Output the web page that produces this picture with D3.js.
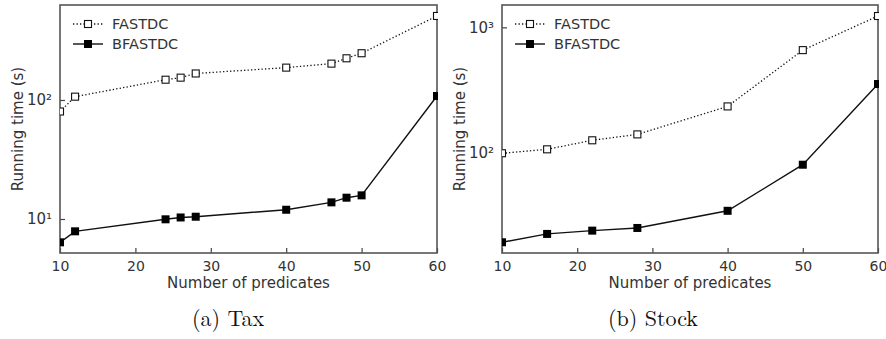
<!DOCTYPE html>
<html>
<head>
<meta charset="utf-8">
<script src="https://cdn.jsdelivr.net/npm/d3@7"></script>
<style>
  body { margin: 0; background: #fff; }
  text { font-family: "DejaVu Sans", sans-serif; fill: #333; }
  .caption { font-family: "Latin Modern Roman", "DejaVu Serif", "Liberation Serif", serif; fill: #111; }
</style>
</head>
<body>
<div id="chart"></div>
<script>
// Values
var taxX = [10, 12, 24, 26, 28, 40, 46, 48, 50, 60];
var taxFast = [80, 106.6, 148, 154, 167, 187, 202, 224, 247, 508];
var taxBFast = [6.37, 7.88, 9.94, 10.3, 10.45, 11.96, 13.8, 15.1, 15.8, 108];

var stockX = [10, 16, 22, 28, 40, 50, 60];
var stockFast = [99, 106.4, 125.6, 140, 234, 658, 1231];
var stockBFast = [19.3, 22.5, 23.9, 25.1, 34.4, 80.2, 353];

var xTicks = [10, 20, 30, 40, 50, 60];
var seriesNames = ['FASTDC', 'BFASTDC'];
var captions = ['(a) Tax', '(b) Stock'];

var W = 886, H = 339;
var svg = d3.select('#chart').append('svg')
  .attr('width', W).attr('height', H);

var sup = {'1': '\u00b9', '2': '\u00b2', '3': '\u00b3'};

function panel(opt) {
  var left = opt.left, right = opt.right, top = 5, bottom = 253;
  var g = svg.append('g');

  var x = d3.scaleLinear().domain([10, 60]).range([left, right]);
  var y = d3.scaleLog().domain(opt.yDomain).range([bottom, top]);

  // x axis, inward ticks
  var xa = g.append('g')
    .attr('transform', 'translate(0,' + bottom + ')')
    .call(d3.axisBottom(x).tickValues(xTicks).tickSizeInner(-5).tickSizeOuter(0).tickPadding(10));
  xa.select('.domain').remove();
  xa.selectAll('line').attr('stroke', '#444').attr('stroke-width', 1.2);
  xa.selectAll('text').attr('font-size', 14).attr('fill', '#333').attr('dy', '0.71em').attr('y', 8);

  // y axis, decades only
  var ya = g.append('g')
    .attr('transform', 'translate(' + left + ',0)')
    .call(d3.axisLeft(y).tickValues(opt.yTicks).tickSizeInner(-5).tickSizeOuter(0).tickPadding(8)
      .tickFormat(function(d) { return '10' + sup[String(Math.round(Math.log10(d)))]; }));
  ya.select('.domain').remove();
  ya.selectAll('line').attr('stroke', '#444').attr('stroke-width', 1.2);
  ya.selectAll('text').attr('font-size', 15).attr('fill', '#333');

  // frame
  g.append('rect')
    .attr('x', left).attr('y', top)
    .attr('width', right - left).attr('height', bottom - top)
    .attr('fill', 'none').attr('stroke', '#555').attr('stroke-width', 1.6);

  var line = d3.line()
    .x(function(d) { return x(d[0]); })
    .y(function(d) { return y(d[1]); });

  var fast = opt.xs.map(function(v, i) { return [v, opt.fast[i]]; });
  var bfast = opt.xs.map(function(v, i) { return [v, opt.bfast[i]]; });

  var clip = 'clip' + left;
  svg.append('clipPath').attr('id', clip)
    .append('rect').attr('x', left).attr('y', top - 6)
    .attr('width', right - left + 1).attr('height', bottom - top + 12);
  var pg = g.append('g').attr('clip-path', 'url(#' + clip + ')');

  pg.append('path').datum(fast).attr('d', line)
    .attr('fill', 'none').attr('stroke', '#111').attr('stroke-width', 1.3)
    .attr('stroke-dasharray', '1.3,2.2');
  pg.append('path').datum(bfast).attr('d', line)
    .attr('fill', 'none').attr('stroke', '#111').attr('stroke-width', 1.4);

  pg.selectAll('.mf').data(fast).enter().append('rect')
    .attr('x', function(d) { return x(d[0]) - 3.5; })
    .attr('y', function(d) { return y(d[1]) - 3.5; })
    .attr('width', 7).attr('height', 7)
    .attr('fill', '#fff').attr('stroke', '#111').attr('stroke-width', 1.1);
  pg.selectAll('.mb').data(bfast).enter().append('rect')
    .attr('x', function(d) { return x(d[0]) - 4; })
    .attr('y', function(d) { return y(d[1]) - 4; })
    .attr('width', 8).attr('height', 8)
    .attr('fill', '#000');

  // legend
  var lx = left + 13, ly = [24, 44];
  var lg = g.append('g');
  lg.append('line').attr('x1', lx).attr('x2', lx + 30).attr('y1', ly[0]).attr('y2', ly[0])
    .attr('stroke', '#111').attr('stroke-width', 1.3).attr('stroke-dasharray', '1.3,2.2');
  lg.append('rect').attr('x', lx + 11.5).attr('y', ly[0] - 3.5).attr('width', 7).attr('height', 7)
    .attr('fill', '#fff').attr('stroke', '#111').attr('stroke-width', 1.1);
  lg.append('line').attr('x1', lx).attr('x2', lx + 30).attr('y1', ly[1]).attr('y2', ly[1])
    .attr('stroke', '#111').attr('stroke-width', 1.4);
  lg.append('rect').attr('x', lx + 11).attr('y', ly[1] - 4).attr('width', 8).attr('height', 8)
    .attr('fill', '#000');
  seriesNames.forEach(function(n, i) {
    lg.append('text').attr('x', lx + 39).attr('y', ly[i]).attr('dy', '0.35em')
      .attr('font-size', 14.5).text(n);
  });

  // axis titles
  g.append('text')
    .attr('transform', 'translate(' + opt.ylabX + ',' + ((top + bottom) / 2) + ') rotate(-90)')
    .attr('text-anchor', 'middle').attr('dy', '0.35em')
    .attr('font-size', 15).text('Running time (s)');
  g.append('text')
    .attr('x', (left + right) / 2).attr('y', 283).attr('dy', '0.35em')
    .attr('text-anchor', 'middle').attr('font-size', 15).text('Number of predicates');

  g.append('text').attr('class', 'caption')
    .attr('x', opt.capX).attr('y', 318).attr('dy', '0.35em')
    .attr('text-anchor', 'middle').attr('font-size', 22).text(opt.caption);
}

panel({left: 60, right: 437, xs: taxX, fast: taxFast, bfast: taxBFast,
       yDomain: [5.18, 628], yTicks: [10, 100], ylabX: 18, capX: 228, caption: captions[0]});
panel({left: 502, right: 878, xs: stockX, fast: stockFast, bfast: stockBFast,
       yDomain: [15.85, 1507], yTicks: [100, 1000], ylabX: 460, capX: 653, caption: captions[1]});
</script>
</body>
</html>
